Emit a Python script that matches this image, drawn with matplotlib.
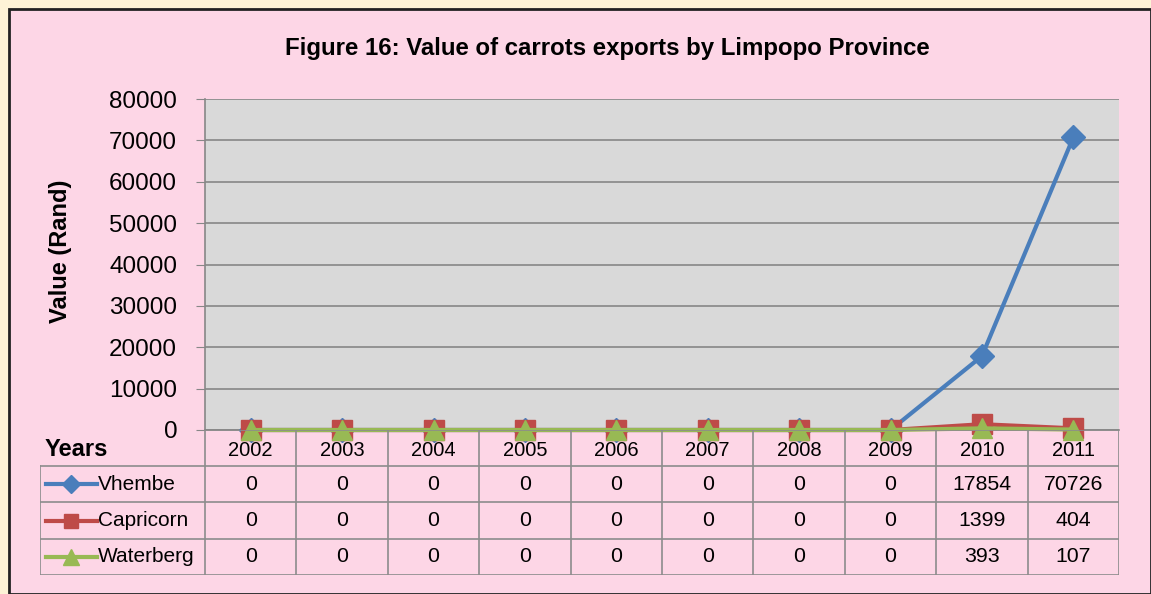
import numpy as np
import matplotlib
matplotlib.use("Agg")
import matplotlib.pyplot as plt
from matplotlib.patches import Rectangle
from matplotlib.lines import Line2D

plt.rcParams['font.family'] = ['Liberation Sans Narrow', 'Liberation Sans', 'DejaVu Sans']

years = ['2002', '2003', '2004', '2005', '2006', '2007', '2008', '2009', '2010', '2011']
vhembe = [0, 0, 0, 0, 0, 0, 0, 0, 17854, 70726]
capricorn = [0, 0, 0, 0, 0, 0, 0, 0, 1399, 404]
waterberg = [0, 0, 0, 0, 0, 0, 0, 0, 393, 107]
series_names = ['Vhembe', 'Capricorn', 'Waterberg']
yticks = [0, 10000, 20000, 30000, 40000, 50000, 60000, 70000, 80000]

colors = ['#4a7ebb', '#be4b48', '#98b954']
markers = ['D', 's', '^']
msizes = [12, 14, 15]

W, H = 1151, 594
fig = plt.figure(figsize=(W / 100, H / 100), dpi=100)
fig.patch.set_facecolor('#fdf3d6')


def fx(px):
    return px / W


def fy(py):
    return 1 - py / H


# pink chart background with dark border
fig.patches.append(Rectangle((fx(9), 0), 1 - fx(9), fy(9), transform=fig.transFigure,
                             facecolor='#fdd6e6', edgecolor='#222222', linewidth=2,
                             zorder=-10))

# plot area
pl, pr, pt, pb = 205, 1119, 99, 430
ax = fig.add_axes([fx(pl), fy(pb), fx(pr - pl), fy(pt) - fy(pb)])
ax.set_facecolor('#d9d9d9')
n = len(years)
x = np.arange(n)
ax.set_xlim(-0.5, n - 0.5)
ax.set_ylim(0, 80000)
ax.set_yticks(yticks)
ax.set_yticklabels([str(v) for v in yticks], fontsize=17.5)
ax.yaxis.grid(True, color='#878787', linewidth=1.2)
ax.set_axisbelow(True)
ax.set_xticks([])
for s in ['top', 'right']:
    ax.spines[s].set_visible(False)
ax.spines['left'].set_color('#878787')
ax.spines['bottom'].set_color('#878787')
ax.spines['left'].set_linewidth(1.2)
ax.spines['bottom'].set_linewidth(1.2)
ax.tick_params(axis='y', length=6.5, color='#878787', pad=13.5)
ax.set_ylabel('Value (Rand)', fontsize=17, fontweight='bold')
ax.yaxis.set_label_coords((72 - pl) / (pr - pl), (pb - 251) / (pb - pt))

data = [vhembe, capricorn, waterberg]
for vals, c, m, ms in zip(data, colors, markers, msizes):
    ax.plot(x, vals, color=c, linewidth=3, marker=m, markersize=ms,
            markeredgecolor=c, clip_on=False, zorder=3)

fig.text(fx(607), fy(49), 'Figure 16: Value of carrots exports by Limpopo Province',
         ha='center', va='center', fontsize=17.3, fontweight='bold')

# data table below
tax = fig.add_axes([fx(40), fy(575), fx(pr - 40), fy(430) - fy(575)])
tax.set_axis_off()
unit = (pr - pl) / n
left = -0.5 - (pl - 40) / unit
tax.set_xlim(left, n - 0.5)
rows = [430, 466, 502, 539, 575]
tax.set_ylim(575, 430)
gc = '#8c8c8c'
# horizontal lines
tax.add_line(Line2D([-0.5, n - 0.5], [rows[0], rows[0]], color=gc, lw=1.2))
for r in rows[1:]:
    tax.add_line(Line2D([left, n - 0.5], [r, r], color=gc, lw=1.2))
# vertical lines
tax.add_line(Line2D([left, left], [rows[1], rows[-1]], color=gc, lw=1.2))
for i in range(n + 1):
    tax.add_line(Line2D([i - 0.5, i - 0.5], [rows[0], rows[-1]], color=gc, lw=1.2))

for i, yr in enumerate(years):
    tax.text(i, (rows[0] + rows[1]) / 2 + 2, yr, ha='center', va='center', fontsize=14.5)
tax.text(left + 0.05, (rows[0] + rows[1]) / 2 + 1, 'Years', ha='left', va='center',
         fontsize=17, fontweight='bold')

for j, (name, vals) in enumerate(zip(series_names, data)):
    yc = (rows[j + 1] + rows[j + 2]) / 2
    x0 = left + 6 / unit
    x1 = left + 57 / unit
    tax.add_line(Line2D([x0, x1], [yc, yc], color=colors[j], lw=3))
    tax.add_line(Line2D([(x0 + x1) / 2], [yc], color=colors[j], marker=markers[j],
                        markersize=msizes[j] * 0.75, markeredgecolor=colors[j]))
    tax.text(x1 + 1 / unit, yc, name, ha='left', va='center', fontsize=15)
    for i, v in enumerate(vals):
        tax.text(i, yc, str(v), ha='center', va='center', fontsize=15.3)

fig.savefig('out.png', dpi=100, facecolor=fig.get_facecolor())
